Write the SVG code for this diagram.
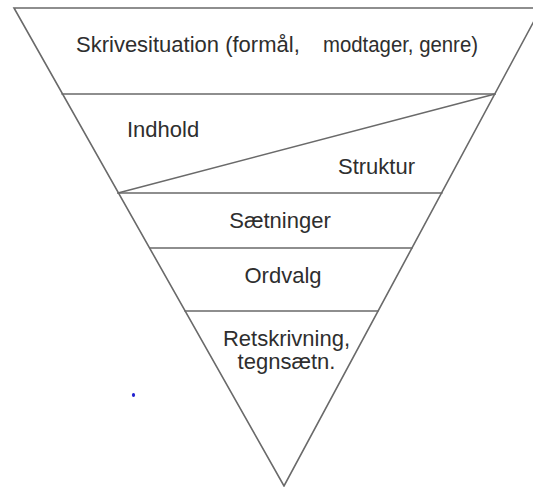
<svg xmlns="http://www.w3.org/2000/svg" width="533" height="487" viewBox="0 0 533 487">
<style>
.ln{stroke:#6a6a6a;stroke-width:1.6;fill:none;stroke-linecap:round}
.t{font-family:"Liberation Sans",Arial,sans-serif;font-size:22px;fill:#2e2e2e}
</style>
<rect width="533" height="487" fill="#ffffff"/>
<g id="connectors">
<polyline class="ln" points="541,8 14,8 284,486 541,8"/>
<line class="ln" x1="62" y1="94" x2="495" y2="94"/>
<line class="ln" x1="495" y1="94" x2="118" y2="193"/>
<line class="ln" x1="118" y1="193" x2="442" y2="193"/>
<line class="ln" x1="150" y1="248" x2="412" y2="248"/>
<line class="ln" x1="185" y1="311" x2="378" y2="311"/>
</g>
<g id="skrivesituation"><text class="t" y="52"><tspan x="76">Skrivesituation (formål,</tspan><tspan x="323" textLength="155" lengthAdjust="spacingAndGlyphs">modtager, genre)</tspan></text></g>
<g id="indhold"><text class="t" x="127" y="137">Indhold</text></g>
<g id="struktur"><text class="t" x="338" y="174">Struktur</text></g>
<g id="saetninger"><text class="t" x="280" y="228" text-anchor="middle">Sætninger</text></g>
<g id="ordvalg"><text class="t" x="283" y="283" text-anchor="middle">Ordvalg</text></g>
<g id="retskrivning"><text class="t" x="286.5" y="346" text-anchor="middle">Retskrivning,</text><text class="t" x="286.5" y="369" text-anchor="middle">tegnsætn.</text></g>
<ellipse cx="133.5" cy="395" rx="1.6" ry="2" fill="#2020d0"/>
</svg>
